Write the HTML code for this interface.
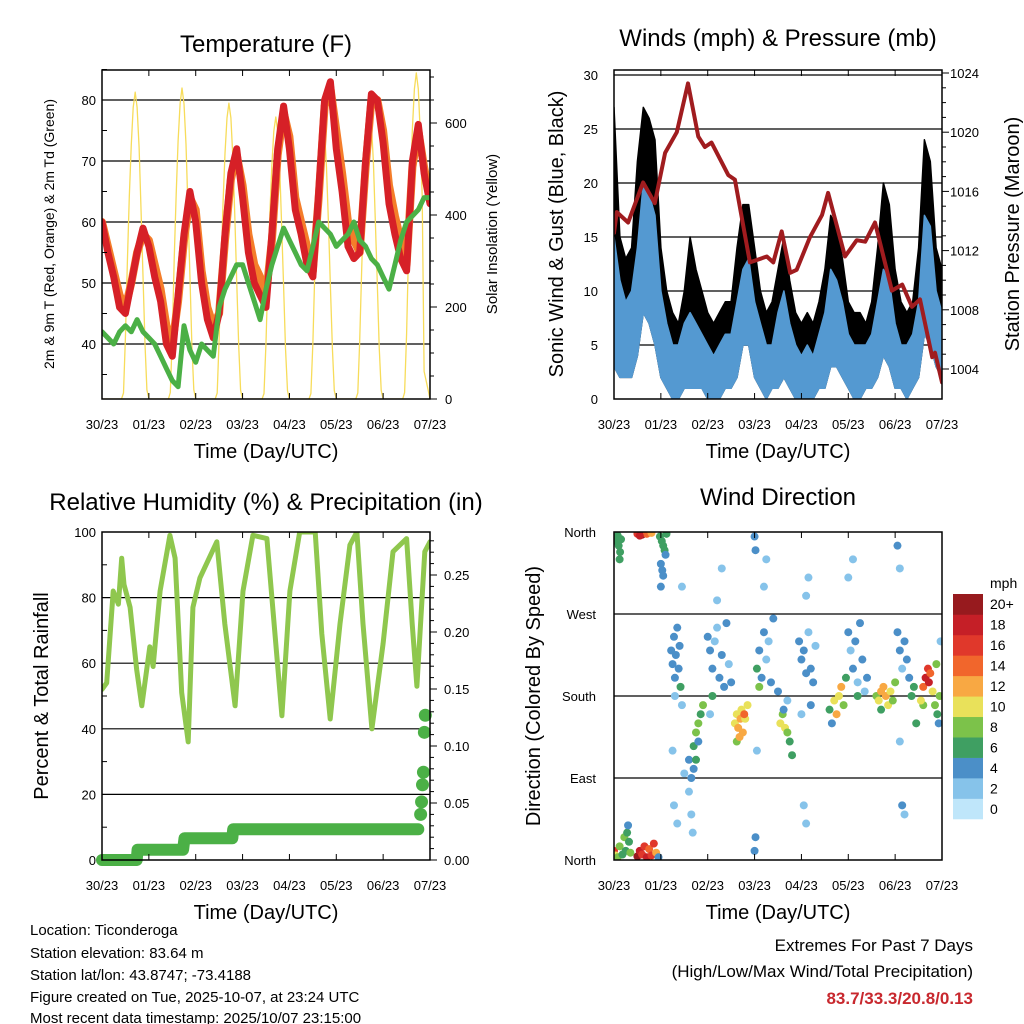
<!DOCTYPE html>
<html><head><meta charset="utf-8"><style>
html,body{margin:0;padding:0;background:#fff}
svg{display:block;font-family:"Liberation Sans",sans-serif}
</style></head><body>
<svg id="s" width="1024" height="1024" viewBox="0 0 1024 1024" xmlns="http://www.w3.org/2000/svg">
<defs>
<clipPath id="c1"><rect x="102" y="70" width="328" height="329"/></clipPath>
<clipPath id="c2"><rect x="614" y="70" width="328" height="329"/></clipPath>
<clipPath id="c3"><rect x="102" y="532" width="328" height="328"/></clipPath>
<clipPath id="c4"><rect x="614" y="532" width="328" height="328"/></clipPath>
</defs>
<text x="266" y="52" font-size="24" text-anchor="middle">Temperature (F)</text>
<text x="778" y="46" font-size="24" text-anchor="middle">Winds (mph) &amp; Pressure (mb)</text>
<text x="266" y="510" font-size="24" text-anchor="middle">Relative Humidity (%) &amp; Precipitation (in)</text>
<text x="778" y="505" font-size="24" text-anchor="middle">Wind Direction</text>
<g id="g1"></g>
<g id="g2"></g>
<g id="g3"></g>
<g id="g4"></g>
<g font-size="15">
<text x="30" y="935">Location: Ticonderoga</text>
<text x="30" y="958">Station elevation: 83.64 m</text>
<text x="30" y="980">Station lat/lon: 43.8747; -73.4188</text>
<text x="30" y="1002">Figure created on Tue, 2025-10-07, at 23:24 UTC</text>
<text x="30" y="1023">Most recent data timestamp: 2025/10/07 23:15:00</text>
</g>
<g font-size="17" text-anchor="end">
<text x="973" y="951">Extremes For Past 7 Days</text>
<text x="973" y="977">(High/Low/Max Wind/Total Precipitation)</text>
<text x="973" y="1004" fill="#c8282e" font-weight="bold">83.7/33.3/20.8/0.13</text>
</g>
</svg>
<script>
const dayLabels=["30/23","01/23","02/23","03/23","04/23","05/23","06/23","07/23"];
const tempRed=[60,55,51,46,45,50,55,59,56,51,47,40,38,48,58,65,60,50,44,41,45,58,68,72,64,55,50,48,46,58,72,79,72,62,58,53,51,65,80,83,72,65,56,54,55,70,81,80,73,63,58,54,52,70,76,68,63];
const tempOrange=[60,56,52,48,46,50,55,58,57,53,49,43,40,47,57,64,62,52,46,43,45,57,67,71,66,58,53,51,48,57,71,78,74,64,60,56,52,64,79,82,75,68,60,57,55,69,80,80,75,66,61,57,53,69,75,69,64];
const dewGreen=[42,41,40,42,43,42,44,42,41,40,38,36,34,33,43,39,37,40,39,38,46,49,51,53,53,50,47,44,49,53,56,59,57,55,53,52,56,60,59,58,56,57,58,60,57,56,54,53,51,49,53,57,60,61,62,64,64];
const solar=[
0,0,0,0,0,0,0,0,0,0,0,13,133,300,440,554,634,667,634,547,414,267,120,20,
0,0,0,0,0,0,0,0,0,0,0,14,135,304,446,561,642,676,642,554,419,270,122,20,
0,0,0,0,0,0,0,0,0,0,0,13,129,289,424,534,611,643,611,527,399,257,116,19,
0,0,0,0,0,0,0,0,0,0,0,12,123,276,405,509,582,613,582,503,380,245,110,18,
0,0,0,0,0,0,0,0,0,0,0,12,123,276,405,509,582,613,582,503,380,245,110,18,
0,0,0,0,0,0,0,0,0,0,0,13,126,283,414,521,597,628,597,515,389,251,113,19,
0,0,0,0,0,0,0,0,0,0,0,14,142,319,468,588,674,709,674,581,440,60,40,21,0];
const windHi=[15,11,9,10,14,20,19,17,10,7,5,5,7,8,7,6,5,4,5,6,6,9,12,13,9,7,5,5,8,10,7,5,4,5,4,6,8,12,11,9,6,5,5,5,6,9,12,11,7,5,5,6,9,17,16,10,8];
const windLo=[3,2,2,2,4,8,7,5,2,1,0,0,1,1,1,1,0,0,0,1,1,2,5,5,2,1,0,1,1,2,1,0,0,0,0,1,1,3,3,2,1,0,0,1,1,2,4,3,1,1,0,1,2,6,5,3,2];
const gustHi=[27,15,13,14,22,27,26,24,14,10,8,7,10,15,12,10,8,7,8,9,9,14,18,18,14,10,8,9,12,15,11,8,7,8,7,9,12,17,16,13,9,8,8,7,9,14,20,18,12,9,8,9,14,24,22,14,12];
const presT=[0,0.06,0.3,0.62,0.87,1.09,1.34,1.58,1.8,1.94,2.08,2.44,2.58,2.9,3.26,3.4,3.58,3.76,3.9,4.18,4.44,4.57,4.93,5.18,5.36,5.57,5.93,6.15,6.36,6.53,6.79,6.85,7];
const presV=[1013.2,1014.6,1013.9,1016.6,1015.2,1018.6,1020,1023.3,1019.7,1019,1019.3,1017.1,1016.8,1011.2,1011.6,1011.2,1013.3,1010.5,1010.7,1012.9,1014.4,1015.9,1011.6,1012.7,1012.6,1013.9,1009.3,1009.7,1008.2,1008.7,1004.8,1005.1,1003.1];
const rhT=[0,0.1,0.24,0.35,0.42,0.47,0.6,0.74,0.85,1.02,1.09,1.24,1.45,1.56,1.7,1.84,1.94,2.09,2.45,2.62,2.84,3.01,3.22,3.52,3.65,3.84,4.01,4.22,4.55,4.69,4.87,5.08,5.29,5.44,5.57,5.76,6.0,6.21,6.5,6.62,6.72,6.89,7];
const rhV=[52,54,82,78,92,84,77,58,47,65,59,82,99,92,51,36,77,86,97,72,47,82,99,98,76,44,82,100,100,69,43,72,96,100,72,40,66,94,98,72,53,94,97];
const precT=[0,0.74,0.76,1.73,1.76,2.78,2.8,6.75];
const precV=[0,0,0.009,0.009,0.019,0.019,0.027,0.027];
const precDotT=[6.8,6.82,6.84,6.86,6.88,6.9];
const precDotV=[0.04,0.051,0.066,0.077,0.112,0.127];
const dirT=[0.05,0.1,0.13,0.15,0.08,0.12,0.5,0.6,0.65,0.7,0.8,0.55,0.98,1.02,1.05,1.08,1.1,1.0,1.03,1.05,1.12,1.0,
0.0,0.03,0.08,0.12,0.18,0.22,0.25,0.28,0.3,0.32,0.35,0.5,0.55,0.6,0.65,0.7,0.75,0.8,0.9,0.95,0.85,
1.22,1.25,1.28,1.3,1.32,1.35,1.38,1.4,1.42,1.25,1.28,1.35,1.3,1.45,1.5,1.45,
1.6,1.65,1.7,1.75,1.8,1.85,1.6,1.65,1.7,1.9,1.75,1.8,1.68,
2.0,2.05,2.1,2.15,2.2,2.25,2.3,2.35,2.4,2.45,2.5,2.1,2.2,2.3,2.05,
2.58,2.62,2.65,2.7,2.72,2.75,2.8,2.62,2.85,2.68,2.78,
3.0,3.02,3.05,3.1,3.15,3.2,3.25,3.3,3.35,3.4,3.2,3.25,3.0,3.02,3.05,3.5,3.1,
3.55,3.6,3.65,3.7,3.75,3.8,3.62,3.7,
3.95,4.0,4.05,4.1,4.15,4.2,4.25,4.3,4.1,4.15,4.05,4.1,4.2,4.0,
4.6,4.7,4.75,4.8,4.85,4.9,4.95,4.65,
5.0,5.05,5.1,5.15,5.2,5.25,5.3,5.35,5.0,5.1,5.2,5.4,
5.6,5.65,5.7,5.75,5.8,5.85,5.9,5.95,5.7,6.0,
6.05,6.1,6.15,6.2,6.25,6.3,6.35,6.4,6.05,6.1,6.15,6.2,6.1,6.45,
6.6,6.65,6.7,6.72,6.75,6.8,6.85,6.9,6.95,6.6,6.88,6.93,6.97,6.55];
const dirV=[350,345,338,352,356,330,358,357,359,358,359,356,355,350,345,340,335,325,318,312,358,300,
10,5,3,15,6,25,10,30,38,20,8,4,10,6,15,3,12,5,8,3,18,
230,215,245,200,225,255,210,235,190,120,60,40,180,170,95,300,
110,90,125,140,150,160,75,50,100,170,110,130,30,
245,230,210,240,255,200,225,190,260,215,195,180,285,320,160,
150,160,145,155,165,140,155,130,170,135,160,
355,340,210,230,200,250,220,240,195,265,300,330,10,25,120,185,190,
150,160,145,140,130,115,165,175,
240,220,230,205,250,210,195,235,290,310,60,40,170,160,
165,175,160,180,190,170,200,150,
250,230,210,240,195,260,220,185,310,330,180,200,
180,175,185,190,180,170,185,175,165,195,
250,230,210,240,220,200,180,190,345,320,60,50,130,150,
190,200,210,195,205,185,170,160,180,170,215,150,240,175];
const dirS=[6,6,6,7,6,6,16,20,18,14,12,18,6,7,6,6,5,4,4,4,6,4,
16,10,8,8,7,8,7,6,4,6,8,20,18,16,16,18,14,16,12,4,16,
4,4,4,4,4,4,4,4,6,2,2,2,2,2,2,2,
4,4,6,8,8,6,2,2,4,8,6,4,2,
4,4,4,2,2,4,4,4,4,2,4,6,2,2,2,
10,10,12,12,10,12,10,8,10,12,14,
4,4,6,4,4,4,2,2,4,4,2,2,4,4,2,4,8,
10,8,10,8,6,6,4,2,
4,4,4,4,2,4,4,2,2,2,2,2,4,2,
6,10,12,10,12,8,6,4,
4,2,4,4,2,4,4,2,2,2,6,4,
8,10,12,12,12,10,10,8,6,8,
4,4,2,4,4,4,6,6,4,2,4,2,2,6,
14,18,16,18,14,10,8,6,8,8,8,4,2,10];
const speedColors=["#bfe6fa","#86c3ea","#4b8fc8","#3f9f62","#7cc24a","#e9e15a","#f8a843","#f1662c","#e0382b","#c51f27","#971a1e"];
const speedLabels=["0","2","4","6","8","10","12","14","16","18","20+"];
const dirLabels=["North","East","South","West","North"];

const NS="http://www.w3.org/2000/svg";
function mk(tag,attrs,parent){const e=document.createElementNS(NS,tag);for(const k in attrs)e.setAttribute(k,attrs[k]);parent.appendChild(e);return e;}
function txt(s,attrs,parent){const e=mk("text",attrs,parent);e.textContent=s;return e;}
const W=328;
function xs(x0){return t=>x0+t*W/7;}
function frame(g,x0,y0,h,grids){
  grids.forEach(gy=>{const l=mk("line",{x1:x0,x2:x0+W,y1:gy,y2:gy,stroke:"#000","stroke-width":1.2},g);});
}
function axes(g,x0,y0,h){
  const r=mk("rect",{x:x0,y:y0,width:W,height:h,fill:"none",stroke:"#000","stroke-width":1.5},g);
  
  const X=xs(x0);
  dayLabels.forEach((lab,i)=>{
    mk("line",{x1:X(i),x2:X(i),y1:y0+h,y2:y0+h-6,stroke:"#000"},g);
    mk("line",{x1:X(i),x2:X(i),y1:y0,y2:y0+6,stroke:"#000"},g);
    const t=txt(lab,{x:X(i),y:y0+h+30,"font-size":13,"text-anchor":"middle"},g);
    
  });
  const xt=txt("Time (Day/UTC)",{x:x0+W/2,y:y0+h+59,"font-size":20,"text-anchor":"middle"},g);
  
}
function ylab(g,s,x,y,anchor,size){const t=txt(s,{x:x,y:y+5,"font-size":size||13,"text-anchor":anchor},g);}
function ytitle(g,s,x,y,size,name){const t=txt(s,{x:x,y:y,"font-size":size,"text-anchor":"middle",transform:`rotate(-90 ${x} ${y})`},g);}
function poly(g,pts,attrs,name){const p=mk("polyline",Object.assign({points:pts.map(p=>p[0].toFixed(1)+","+p[1].toFixed(1)).join(" "),fill:"none","stroke-linejoin":"round","stroke-linecap":"round"},attrs),g);return p;}

// Panel 1
(function(){
  const g=document.getElementById("g1");const X=xs(102);
  const yT=v=>344-(v-40)*6.1, yS=s=>399-s*0.46;
  frame(g,102,70,329,[40,50,60,70,80].map(yT));
  const cg=mk("g",{"clip-path":"url(#c1)"},g);
  poly(cg,solar.map((v,i)=>[X(i/24),yS(v)]),{stroke:"#f7dc5a","stroke-width":1.3},"solar-line");
  poly(cg,tempOrange.map((v,i)=>[X(i/8),yT(v)]),{stroke:"#f47d2a","stroke-width":8},"temp-9m-line");
  poly(cg,tempRed.map((v,i)=>[X(i/8),yT(v)]),{stroke:"#d62027","stroke-width":7},"temp-2m-line");
  poly(cg,dewGreen.map((v,i)=>[X(i/8),yT(v)]),{stroke:"#4bb046","stroke-width":5},"dewpoint-line");
  axes(g,102,70,329);
  [40,50,60,70,80].forEach(v=>ylab(g,String(v),96,yT(v),"end"));
  [35,45,55,65,75,85].forEach(v=>mk("line",{x1:102,x2:107,y1:yT(v),y2:yT(v),stroke:"#000"},g));
  [0,200,400,600].forEach(v=>{ylab(g,String(v),445,yS(v),"start");mk("line",{x1:430,x2:437,y1:yS(v),y2:yS(v),stroke:"#000"},g);});
  [50,100,150,250,300,350,450,500,550,650,700].forEach(v=>mk("line",{x1:430,x2:434,y1:yS(v),y2:yS(v),stroke:"#000"},g));
  ytitle(g,"2m & 9m T (Red, Orange) & 2m Td (Green)",54,234,14,"y-axis-title-left");
  ytitle(g,"Solar Insolation (Yellow)",497,234,15,"y-axis-title-right");
})();
// Panel 2
(function(){
  const g=document.getElementById("g2");const X=xs(614);
  const yW=v=>399-v*10.8, yP=p=>369-(p-1004)*14.8;
  frame(g,614,70,329,[5,10,15,20,25,30].map(yW));
  const cg=mk("g",{"clip-path":"url(#c2)"},g);
  const band=(hi,lo,col,name)=>{const pts=hi.map((v,i)=>[X(i/8),yW(v)]).concat(lo.map((v,i)=>[X(i/8),yW(v)]).reverse());
    const p=mk("polygon",{points:pts.map(p=>p[0].toFixed(1)+","+p[1].toFixed(1)).join(" "),fill:col,stroke:col,"stroke-width":1.5,"stroke-linejoin":"round"},cg);
    };
  band(gustHi,windLo,"#000","gust-band");
  band(windHi,windLo,"#5499d1","sonic-wind-band");
  poly(cg,presT.map((t,i)=>[X(t),yP(presV[i])]),{stroke:"#a01c1f","stroke-width":4},"pressure-line");
  axes(g,614,70,329);
  [0,5,10,15,20,25,30].forEach(v=>ylab(g,String(v),598,yW(v),"end"));
  [1004,1008,1012,1016,1020,1024].forEach(v=>{ylab(g,String(v),950,yP(v),"start");mk("line",{x1:942,x2:949,y1:yP(v),y2:yP(v),stroke:"#000"},g);});
  [1005,1006,1007,1009,1010,1011,1013,1014,1015,1017,1018,1019,1021,1022,1023].forEach(v=>mk("line",{x1:942,x2:946,y1:yP(v),y2:yP(v),stroke:"#000"},g));
  ytitle(g,"Sonic Wind & Gust (Blue, Black)",563,234,20,"y-axis-title-left");
  ytitle(g,"Station Pressure (Maroon)",1019,234,20,"y-axis-title-right");
})();
// Panel 3
(function(){
  const g=document.getElementById("g3");const X=xs(102);
  const yR=v=>860-v*3.28, yPr=p=>860-p*1140;
  frame(g,102,532,328,[20,40,60,80].map(yR));
  const cg=mk("g",{"clip-path":"url(#c3)"},g);
  poly(cg,rhT.map((t,i)=>[X(t),yR(rhV[i])]),{stroke:"#8fc74e","stroke-width":5},"humidity-line");
  poly(g,precT.map((t,i)=>[X(t),yPr(precV[i])]),{stroke:"#4bb046","stroke-width":12},"precip-line");
  precDotT.forEach((t,i)=>{const c=mk("circle",{cx:X(t),cy:yPr(precDotV[i]),r:6.5,fill:"#4bb046"},g);});
  axes(g,102,532,328);
  [0,20,40,60,80,100].forEach(v=>ylab(g,String(v),96,yR(v),"end"));
  [10,30,50,70,90].forEach(v=>mk("line",{x1:102,x2:107,y1:yR(v),y2:yR(v),stroke:"#000"},g));
  ["0.00","0.05","0.10","0.15","0.20","0.25"].forEach(s=>{const v=+s;ylab(g,s,444,yPr(v),"start");mk("line",{x1:430,x2:437,y1:yPr(v),y2:yPr(v),stroke:"#000"},g);});
  for(let k=1;k<29;k++){if(k%5)mk("line",{x1:430,x2:434,y1:yPr(k*0.01),y2:yPr(k*0.01),stroke:"#000"},g);}
  ytitle(g,"Percent & Total Rainfall",48,696,20,"y-axis-title-left");
})();
// Panel 4
(function(){
  const g=document.getElementById("g4");const X=xs(614);
  const yD=d=>860-d/360*328;
  frame(g,614,532,328,[90,180,270].map(yD));
  const cg=mk("g",{"clip-path":"url(#c4)"},g);
  dirT.forEach((t,i)=>{const ci=Math.min(10,Math.floor(dirS[i]/2));
    const c=mk("circle",{cx:X(t),cy:yD(dirV[i]),r:4,fill:speedColors[ci]},cg);
    });
  axes(g,614,532,328);
  dirLabels.forEach((s,i)=>ylab(g,s,596,yD(i*90),"end"));
  ytitle(g,"Direction (Colored By Speed)",540,696,20,"y-axis-title-left");
  const lg=mk("g",{},g);
  txt("mph",{x:990,y:588,"font-size":14},lg);
  const bh=225/11;
  speedColors.forEach((c,i)=>{const j=10-i;const r=mk("rect",{x:953,y:594+j*bh,width:30,height:bh+0.3,fill:c},lg);
    
    txt(speedLabels[i],{x:990,y:594+j*bh+bh/2+5,"font-size":14},lg);});
})();
</script>
</body></html>
